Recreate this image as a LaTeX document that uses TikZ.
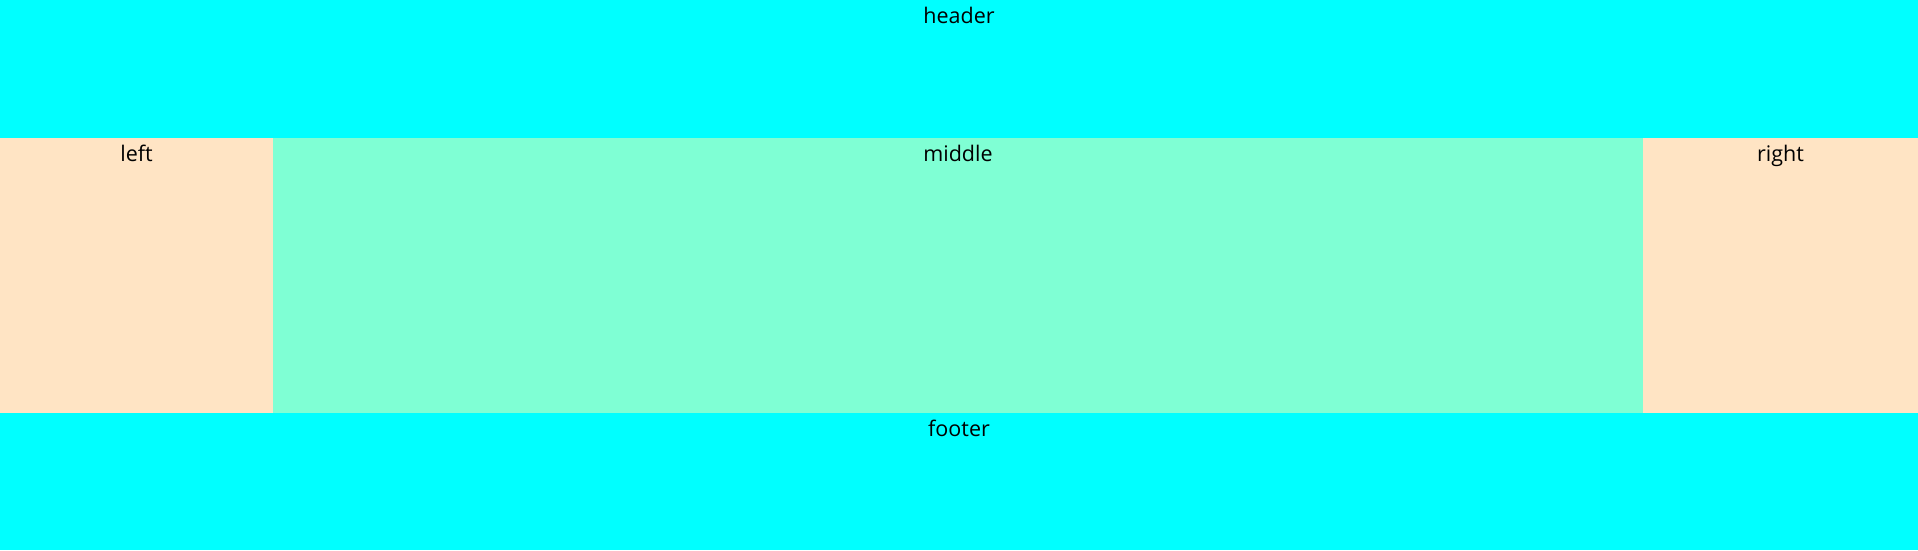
\documentclass[tikz,border=0pt]{standalone}
\usepackage{fontspec}
\setmainfont{Open Sans}
\definecolor{hdrcyan}{HTML}{00FFFF}
\definecolor{midaqua}{HTML}{7FFFD4}
\definecolor{sidebisque}{HTML}{FFE4C4}
\begin{document}
\begin{tikzpicture}[x=1pt,y=-1pt,
  region/.style={inner sep=0pt,outer sep=0pt,anchor=north west},
  lbl/.style={inner sep=0pt,anchor=base,font=\fontsize{21.5}{26}\selectfont,text=black}]
\useasboundingbox (0,0) rectangle (1918,550);
\node[region,fill=hdrcyan,minimum width=1918pt,minimum height=138pt] (header) at (0,0) {};
\node[region,fill=sidebisque,minimum width=273pt,minimum height=275pt] (left) at (0,138) {};
\node[region,fill=midaqua,minimum width=1370pt,minimum height=275pt] (middle) at (273,138) {};
\node[region,fill=sidebisque,minimum width=275pt,minimum height=275pt] (right) at (1643,138) {};
\node[region,fill=hdrcyan,minimum width=1918pt,minimum height=137pt] (footer) at (0,413) {};
\node[lbl] (headert) at ([yshift=-23pt]header.north) {header};
\node[lbl] (leftt) at ([yshift=-23pt]left.north) {left};
\node[lbl] (middlet) at ([yshift=-23pt]middle.north) {middle};
\node[lbl] (rightt) at ([yshift=-23pt]right.north) {right};
\node[lbl] (footert) at ([yshift=-23pt]footer.north) {footer};
\end{tikzpicture}
\end{document}
